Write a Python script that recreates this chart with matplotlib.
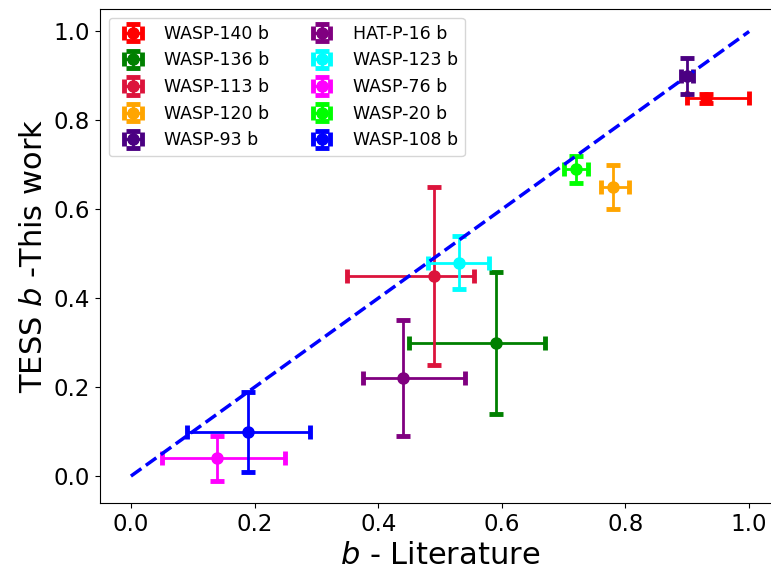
import matplotlib
matplotlib.use("Agg")
import matplotlib.pyplot as plt

names = ["WASP-140 b", "WASP-136 b", "WASP-113 b", "WASP-120 b", "WASP-93 b",
         "HAT-P-16 b", "WASP-123 b", "WASP-76 b", "WASP-20 b", "WASP-108 b"]
b_lit = [0.93, 0.59, 0.49, 0.78, 0.90, 0.44, 0.53, 0.14, 0.72, 0.19]
b_lit_err_lo = [0.03, 0.14, 0.14, 0.02, 0.01, 0.065, 0.05, 0.09, 0.02, 0.10]
b_lit_err_hi = [0.07, 0.08, 0.065, 0.025, 0.01, 0.10, 0.05, 0.11, 0.02, 0.10]
b_tess = [0.85, 0.30, 0.45, 0.65, 0.90, 0.22, 0.48, 0.04, 0.69, 0.10]
b_tess_err = [0.01, 0.16, 0.20, 0.05, 0.04, 0.13, 0.06, 0.05, 0.03, 0.09]
colors = ["red", "green", "crimson", "orange", "indigo",
          "purple", "cyan", "magenta", "lime", "blue"]
line_x = [0.0, 1.0]

fig = plt.figure(figsize=(7.71, 5.71), dpi=100)
ax = fig.add_axes([0.1297, 0.1191, 0.882, 0.8651])
for n, x, xl, xh, y, ye, c in zip(names, b_lit, b_lit_err_lo, b_lit_err_hi,
                                  b_tess, b_tess_err, colors):
    ax.errorbar(x, y, xerr=[[xl], [xh]], yerr=ye, fmt='o', color=c,
                ecolor=c, markersize=8, elinewidth=2, capsize=5, capthick=3.5,
                label=n)
ax.plot(line_x, line_x, '--', color='blue', lw=2.5)

ax.set_xlim(-0.05, 1.05)
ax.set_ylim(-0.0605, 1.0505)
ax.set_xlabel(r"$b$ - Literature", fontsize=22)
ax.set_ylabel(r"TESS $b$ -This work", fontsize=22)
ax.tick_params(labelsize=16.5)
ax.set_xticks([0.0, 0.2, 0.4, 0.6, 0.8, 1.0])
ax.set_yticks([0.0, 0.2, 0.4, 0.6, 0.8, 1.0])
ax.legend(ncol=2, fontsize=12.5, loc='upper left')
fig.savefig("out.png", dpi=100)
